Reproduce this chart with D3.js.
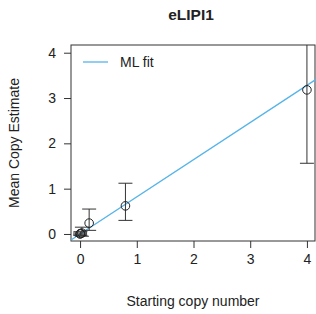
<!DOCTYPE html>
<html>
<head>
<meta charset="utf-8">
<script src="https://cdn.jsdelivr.net/npm/d3@7"></script>
<style>
body { margin: 0; background: #fff; }
text { font-family: "Liberation Sans", Arial, sans-serif; fill: #222; }
</style>
</head>
<body>
<script>
// starting copies and estimates
var startCopies = [0, 0.0064, 0.032, 0.16, 0.8, 4];
var meanEst     = [0.0, 0.01, 0.02, 0.24, 0.62, 3.18];
var lowerEst    = [-0.02, -0.03, -0.05, 0.08, 0.30, 1.56];
var upperEst    = [0.02, 0.05, 0.15, 0.55, 1.12, 4.6];
var xTicks = [0, 1, 2, 3, 4];
var yTicks = [0, 1, 2, 3, 4];
var fitSlope = 0.82, fitIntercept = 0.0;

function main(){
	var svg = d3.select('body').append('svg').attr('width', 316).attr('height', 314);

	var x = d3.scaleLinear().domain([-0.16, 4.16]).range([71, 316]);
	var y = d3.scaleLinear().domain([-0.155, 4.17]).range([241, 45]);

	svg.append('clipPath').attr('id', 'plotclip')
		.append('rect').attr('x', 71).attr('y', 45).attr('width', 245).attr('height', 196);

	// title
	svg.append('text').attr('x', 191).attr('y', 20).attr('text-anchor', 'middle')
		.style('font-size', '15.5px').style('font-weight', 'bold').text('eLIPI1');

	// axes
	var xAxis = d3.axisBottom(x).tickValues(xTicks).tickFormat(d3.format('d')).tickSize(7).tickPadding(6);
	var gx = svg.append('g').attr('transform', 'translate(0,241)').call(xAxis);
	gx.select('.domain').remove();
	gx.selectAll('text').style('font-size', '14px');

	var yAxis = d3.axisLeft(y).tickValues(yTicks).tickFormat(d3.format('d')).tickSize(7).tickPadding(8);
	var gy = svg.append('g').attr('transform', 'translate(71,0)').call(yAxis);
	gy.select('.domain').remove();
	gy.selectAll('text').style('font-size', '14px');

	svg.selectAll('.tick line').attr('stroke', '#333');

	// box
	svg.append('rect').attr('x', 71).attr('y', 45).attr('width', 244).attr('height', 196)
		.attr('fill', 'none').attr('stroke', '#333').attr('stroke-width', 1);

	var plot = svg.append('g').attr('clip-path', 'url(#plotclip)');

	// fit line
	var xs = x.domain();
	plot.append('line')
		.attr('x1', x(xs[0])).attr('y1', y(fitIntercept + fitSlope * xs[0]))
		.attr('x2', x(xs[1])).attr('y2', y(fitIntercept + fitSlope * xs[1]))
		.attr('stroke', '#56B4E9').attr('stroke-width', 1.3);

	var pts = startCopies.map(function(d, i){
		return {x: d, m: meanEst[i], lo: lowerEst[i], hi: upperEst[i]};
	});

	// error bars
	var bars = plot.selectAll('g.bar').data(pts).enter().append('g')
		.attr('stroke', '#333').attr('stroke-width', 1);
	bars.append('line')
		.attr('x1', function(d){ return x(d.x); }).attr('x2', function(d){ return x(d.x); })
		.attr('y1', function(d){ return y(d.lo); }).attr('y2', function(d){ return y(d.hi); });
	bars.append('line')
		.attr('x1', function(d){ return x(d.x) - 7; }).attr('x2', function(d){ return x(d.x) + 7; })
		.attr('y1', function(d){ return y(d.lo); }).attr('y2', function(d){ return y(d.lo); });
	bars.append('line')
		.attr('x1', function(d){ return x(d.x) - 7; }).attr('x2', function(d){ return x(d.x) + 7; })
		.attr('y1', function(d){ return y(d.hi); }).attr('y2', function(d){ return y(d.hi); });

	// points
	plot.selectAll('circle').data(pts).enter().append('circle')
		.attr('cx', function(d){ return x(d.x); })
		.attr('cy', function(d){ return y(d.m); })
		.attr('r', 4.3)
		.attr('fill', 'none').attr('stroke', '#222').attr('stroke-width', 1);

	// legend
	svg.append('line').attr('x1', 83).attr('x2', 108).attr('y1', 62).attr('y2', 62)
		.attr('stroke', '#56B4E9').attr('stroke-width', 1.3);
	svg.append('text').attr('x', 120).attr('y', 67).style('font-size', '14px').text('ML fit');

	// axis titles
	svg.append('text').attr('x', 193).attr('y', 306).attr('text-anchor', 'middle')
		.style('font-size', '14px').text('Starting copy number');
	svg.append('text').attr('transform', 'translate(19,143) rotate(-90)').attr('text-anchor', 'middle')
		.style('font-size', '14px').text('Mean Copy Estimate');
}

main();
</script>
</body>
</html>
